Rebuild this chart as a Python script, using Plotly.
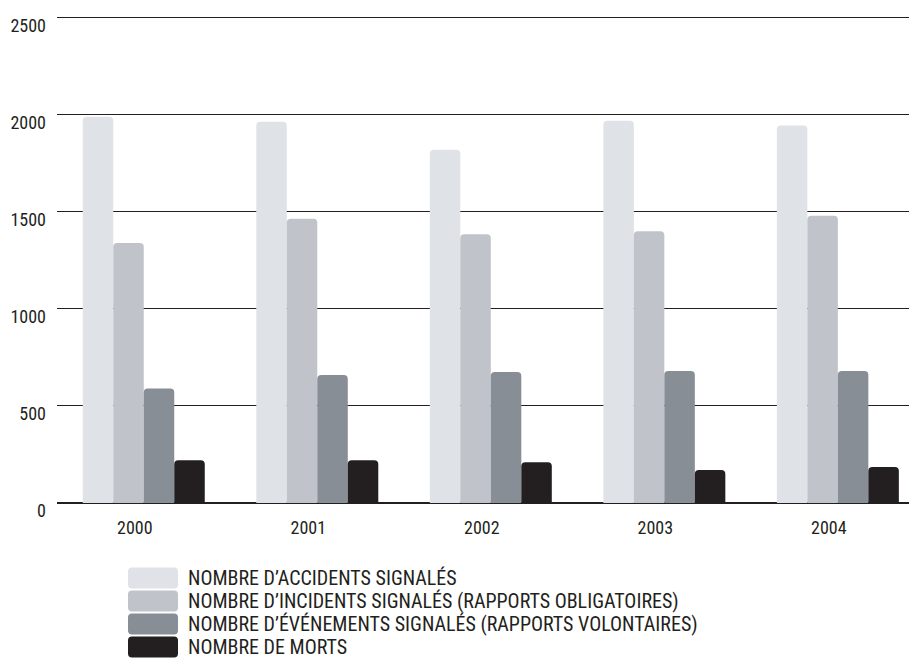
import plotly.graph_objects as go

# Annual safety statistics, 2000-2004
years = ["2000", "2001", "2002", "2003", "2004"]
accidents = [1990, 1965, 1820, 1970, 1945]
incidents = [1340, 1465, 1385, 1400, 1480]
evenements = [590, 660, 675, 680, 680]
morts = [220, 220, 210, 170, 185]

series_names = [
    "NOMBRE D’ACCIDENTS SIGNALÉS",
    "NOMBRE D’INCIDENTS SIGNALÉS (RAPPORTS OBLIGATOIRES)",
    "NOMBRE D’ÉVÉNEMENTS SIGNALÉS (RAPPORTS VOLONTAIRES)",
    "NOMBRE DE MORTS",
]
series_values = [accidents, incidents, evenements, morts]
colors = ["#dfe2e6", "#c0c3ca", "#878e95", "#231f20"]

y_ticks = [0, 500, 1000, 1500, 2000, 2500]

FONT = "Roboto Condensed, Liberation Sans Narrow, Arial Narrow, DejaVu Sans Condensed, sans-serif"
INK = "#231f20"

W, H = 909, 658
ML, MR, MT, MB = 57, 0, 14, 155
plot_w = W - ML - MR
plot_h = H - MT - MB

fig = go.Figure()
for name, vals, col in zip(series_names, series_values, colors):
    fig.add_trace(go.Bar(
        x=years, y=vals, name=name,
        marker=dict(color=col, line=dict(width=0), cornerradius=4),
        showlegend=False,
    ))

# Legend drawn as rounded swatches with labels beneath the plot
def px_to_paper_x(px):
    return (px - ML) / plot_w

def px_to_paper_y(py):
    return (MT + plot_h - py) / plot_h

sw_w, sw_h, r = 50, 21, 4
hw, hh = sw_w / 2, sw_h / 2
swatch_path = (
    f"M {-hw + r},{-hh} H {hw - r} Q {hw},{-hh} {hw},{-hh + r} "
    f"V {hh - r} Q {hw},{hh} {hw - r},{hh} H {-hw + r} "
    f"Q {-hw},{hh} {-hw},{hh - r} V {-hh + r} Q {-hw},{-hh} {-hw + r},{-hh} Z"
)
row_y = [578, 601, 624, 647]
shapes = []
annotations = []
for name, col, ry in zip(series_names, colors, row_y):
    shapes.append(dict(
        type="path", xref="paper", yref="paper",
        xsizemode="pixel", ysizemode="pixel",
        xanchor=px_to_paper_x(153), yanchor=px_to_paper_y(ry),
        path=swatch_path, fillcolor=col, line=dict(width=0),
        layer="above",
    ))
    annotations.append(dict(
        xref="paper", yref="paper",
        x=px_to_paper_x(186), y=px_to_paper_y(ry),
        xanchor="left", yanchor="middle", showarrow=False,
        text=name, font=dict(family=FONT, size=20, color=INK),
    ))

fig.update_layout(
    width=W, height=H,
    margin=dict(l=ML, r=MR, t=MT, b=MB, pad=0),
    paper_bgcolor="white", plot_bgcolor="white",
    barmode="group", bargap=0.297, bargroupgap=0,
    font=dict(family=FONT, size=18, color=INK),
    shapes=shapes, annotations=annotations,
    xaxis=dict(
        type="category", range=[-0.5, 4.41],
        showgrid=False, zeroline=False, showline=False, ticks="",
        tickfont=dict(family=FONT, size=18, color=INK),
        ticklabelshift=-9, ticklabelstandoff=12,
    ),
    yaxis=dict(
        range=[0, 2520], tickvals=y_ticks,
        showgrid=True, gridcolor=INK, gridwidth=1.3,
        zeroline=True, zerolinecolor=INK, zerolinewidth=2.3,
        showline=False, ticks="",
        tickfont=dict(family=FONT, size=18, color=INK),
        ticklabelshift=8, ticklabelstandoff=10,
    ),
)

fig.write_html("out.html")
